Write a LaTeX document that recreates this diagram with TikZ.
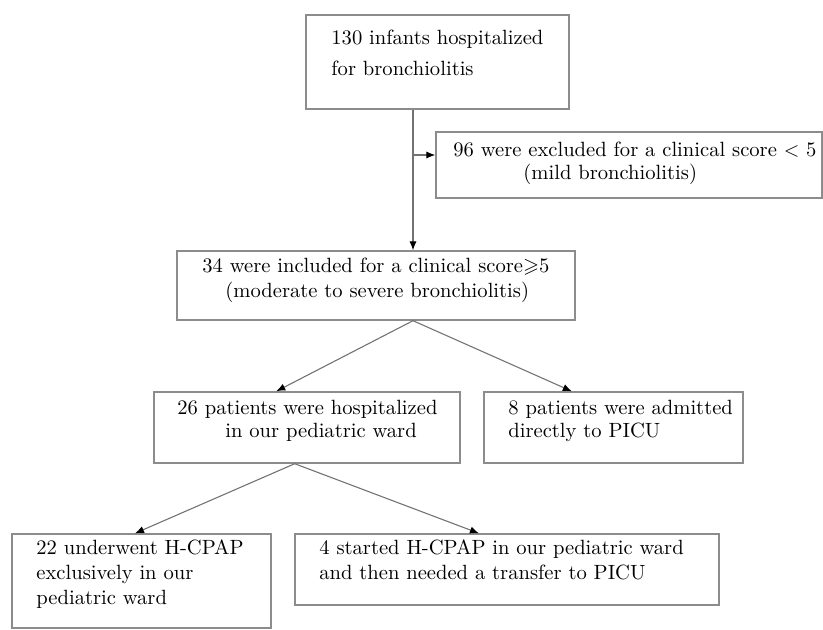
\documentclass[tikz,border=0pt]{standalone}
\usepackage{amssymb}
\usetikzlibrary{arrows.meta,calc}
\begin{document}
\begin{tikzpicture}[x=0.5pt,y=-0.5pt,
  box/.style={draw=black!45, line width=0.7pt, rectangle, inner sep=0pt},
  txt/.style={inner sep=0pt, anchor=base west, font=\fontsize{10.3}{12}\selectfont},
  conn/.style={draw=black!55, line width=0.55pt, -{Latex[length=4.5pt,width=3.6pt,color=black]}}
]
\useasboundingbox (0,0) rectangle (823,630);
% boxes
\node[box, minimum width=131.5pt, minimum height=47pt] (b1) at (437.5,62) {};
\node[box, minimum width=193pt, minimum height=33pt] (b2) at (629,165) {};
\node[box, minimum width=199pt, minimum height=34.5pt] (b3) at (376,285.5) {};
\node[box, minimum width=153pt, minimum height=35.5pt] (b4) at (307,427.5) {};
\node[box, minimum width=129.5pt, minimum height=35.5pt] (b5) at (613.5,427.5) {};
\node[box, minimum width=129.5pt, minimum height=47pt] (b6) at (141.5,581) {};
\node[box, minimum width=212pt, minimum height=35.5pt] (b7) at (507,569.5) {};
% texts
\node[txt] (t1a) at (331,44.5) {130 infants hospitalized};
\node[txt] (t1b) at (331,75.5) {for bronchiolitis};
\node[txt] (t2a) at (453,156.5) {96 were excluded for a clinical score $<$ 5};
\node[txt] (t2b) at (523,179.5) {(mild bronchiolitis)};
\node[txt] (t3a) at (202,272.5) {34 were included for a clinical score$\geqslant$5};
\node[txt] (t3b) at (225,297.5) {(moderate to severe bronchiolitis)};
\node[txt] (t4a) at (177,414.5) {26 patients were hospitalized};
\node[txt] (t4b) at (225,437.5) {in our pediatric ward};
\node[txt] (t5a) at (508,414.5) {8 patients were admitted};
\node[txt] (t5b) at (508,437.5) {directly to PICU};
\node[txt] (t6a) at (36,554.5) {22 underwent H-CPAP};
\node[txt] (t6b) at (36,579.5) {exclusively in our};
\node[txt] (t6c) at (36,604.5) {pediatric ward};
\node[txt] (t7a) at (319,554.5) {4 started H-CPAP in our pediatric ward};
\node[txt] (t7b) at (319,579.5) {and then needed a transfer to PICU};
% connectors
\coordinate (split) at (413,155);
\draw[conn] (split |- b1.south) -- (split |- b3.north);
\draw[conn] (split) -- (split -| b2.west);
\coordinate (s3) at (split |- b3.south);
\draw[conn] (s3) -- ($(b4.north west)!0.40!(b4.north east)$);
\draw[conn] (s3) -- ($(b5.north west)!0.34!(b5.north east)$);
\coordinate (s4) at ($(b4.south west)!0.46!(b4.south east)$);
\draw[conn] (s4) -- ($(b6.north west)!0.475!(b6.north east)$);
\draw[conn] (s4) -- ($(b7.north west)!0.434!(b7.north east)$);
\end{tikzpicture}
\end{document}
